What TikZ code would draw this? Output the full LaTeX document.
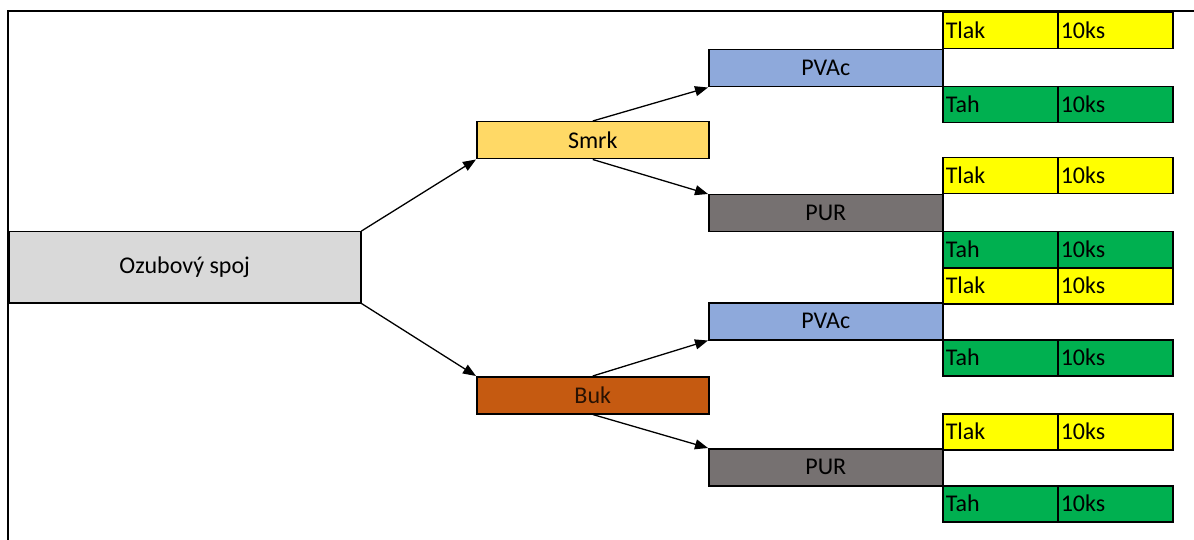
\documentclass[tikz,border=0pt]{standalone}
\usepackage{fontspec}
\setmainfont{Carlito}
\usetikzlibrary{arrows.meta}

\definecolor{ozgray}{HTML}{D9D9D9}
\definecolor{smrkcol}{HTML}{FFD966}
\definecolor{bukcol}{HTML}{C55A11}
\definecolor{pvaccol}{HTML}{8EA9DB}
\definecolor{purcol}{HTML}{767171}
\definecolor{tlakcol}{HTML}{FFFF00}
\definecolor{tahcol}{HTML}{00B050}

\begin{document}
\begin{tikzpicture}[x=1pt,y=-1pt,
  box/.style={draw,line width=1.5pt,rectangle,inner sep=0pt,anchor=north west,
    font=\fontsize{24}{28}\selectfont},
  wood/.style={box,minimum width=232pt,minimum height=37pt},
  glue/.style={box,minimum width=234pt,minimum height=37pt},
  cell/.style={box,minimum width=115pt,minimum height=36pt,text width=109pt,align=left},
  arr/.style={-{Triangle[length=13pt,width=10pt]},line width=1.3pt}]
\useasboundingbox (0,0) rectangle (1194,540);
\draw[line width=1.5pt] (8,540) -- (8,11) -- (1194,11);

\node[box,fill=ozgray,minimum width=352pt,minimum height=71pt] (oz) at (8,231) {Ozubový spoj};

\node[wood,fill=smrkcol] (smrk) at (476,121) {Smrk};
\node[wood,fill=bukcol,text=black!80!bukcol] (buk) at (476,376) {Buk};

\node[glue,fill=pvaccol] (pvac1) at (708,49) {PVAc};
\node[glue,fill=purcol] (pur1) at (708,194) {PUR};
\node[glue,fill=pvaccol] (pvac2) at (708,302) {PVAc};
\node[glue,fill=purcol] (pur2) at (708,448) {PUR};

% zkousky
\foreach \n/\y/\lab/\col in {1/12/Tlak/tlakcol, 2/86/Tah/tahcol, 3/157/Tlak/tlakcol, 4/231/Tah/tahcol,
  5/267/Tlak/tlakcol, 6/339/Tah/tahcol, 7/413/Tlak/tlakcol, 8/485/Tah/tahcol}{
    \node[cell,fill=\col] (zk\n a) at (942,\y) {\lab};
    \node[cell,fill=\col] (zk\n b) at (1057,\y) {10ks};
}

\draw[arr] (oz.north east) -- (smrk.south west);
\draw[arr] (oz.south east) -- (buk.north west);
\draw[arr] (smrk.north) -- (pvac1.south west);
\draw[arr] (smrk.south) -- (pur1.north west);
\draw[arr] (buk.north) -- (pvac2.south west);
\draw[arr] (buk.south) -- (pur2.north west);
\end{tikzpicture}
\end{document}
